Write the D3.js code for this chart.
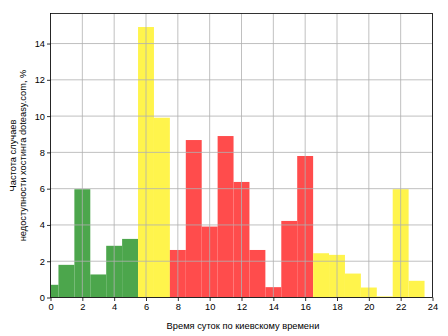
<!DOCTYPE html>
<html>
<head>
<meta charset="utf-8">
<script src="https://cdn.jsdelivr.net/npm/d3@7"></script>
<style>
  html, body { margin: 0; padding: 0; background: #fff; }
  svg { display: block; font-family: "Liberation Sans", Arial, sans-serif; }
</style>
</head>
<body>
<svg id="chart" width="448" height="336"></svg>
<script>
// Hour of day (Kyiv time), bar centred on each hour
const hours = d3.range(0, 24);
// Share of downtime cases per hour, %
const values = [0.70, 1.80, 5.97, 1.27, 2.85, 3.23, 14.91, 9.91, 2.62, 8.68, 3.91, 8.90,
                6.37, 2.62, 0.57, 4.22, 7.80, 2.44, 2.35, 1.32, 0.55, 0.06, 5.97, 0.92];
// Time-of-day band of each hour
const bands = ["night","night","night","night","night","night",
               "morning","morning",
               "day","day","day","day","day","day","day","day","day",
               "evening","evening","evening","evening","evening","evening","evening"];
const bandColor = { night: "#4ca64c", morning: "#fff44c", day: "#ff4c4c", evening: "#fff44c" };
const xTicks = d3.range(0, 25, 2);
const yTicks = d3.range(0, 15, 2);

const svg = d3.select("#chart");
const m = { left: 50.5, right: 432.5, top: 13.5, bottom: 297.5 };
const fs = 9.3;

const x = d3.scaleLinear().domain([0, 24]).range([m.left, m.right]);
const y = d3.scaleLinear().domain([0, d3.max(values) * 1.05]).range([m.bottom, m.top]);

svg.append("defs").append("clipPath").attr("id", "plot")
  .append("rect").attr("x", m.left).attr("y", m.top)
  .attr("width", m.right - m.left).attr("height", m.bottom - m.top);

// Bars
svg.append("g").attr("clip-path", "url(#plot)")
  .selectAll("rect").data(hours).join("rect")
  .attr("x", h => x(h - 0.5))
  .attr("width", h => x(h + 0.5) - x(h - 0.5))
  .attr("y", h => y(values[h]))
  .attr("height", h => y(0) - y(values[h]))
  .attr("fill", h => bandColor[bands[h]]);

// Grid drawn over the bars
const grid = svg.append("g").attr("stroke", "#b0b0b0").attr("stroke-width", 0.8);
grid.selectAll(".gx").data(xTicks).join("line")
  .attr("x1", d => x(d)).attr("x2", d => x(d))
  .attr("y1", m.top).attr("y2", m.bottom);
grid.selectAll(".gy").data(yTicks).join("line")
  .attr("x1", m.left).attr("x2", m.right)
  .attr("y1", d => y(d)).attr("y2", d => y(d));

// Axes
const xAxis = d3.axisBottom(x).tickValues(xTicks).tickSize(3.5).tickPadding(2).tickFormat(d3.format("d"));
const yAxis = d3.axisLeft(y).tickValues(yTicks).tickSize(3.5).tickPadding(2).tickFormat(d3.format("d"));

const gx = svg.append("g").attr("transform", `translate(0,${m.bottom})`).call(xAxis);
const gy = svg.append("g").attr("transform", `translate(${m.left},0)`).call(yAxis);
[gx, gy].forEach(g => {
  g.select(".domain").remove();
  g.selectAll("line").attr("stroke", "#000").attr("stroke-width", 0.8);
  g.selectAll("text").attr("font-size", fs).attr("fill", "#000")
    .attr("font-family", "Liberation Sans, Arial, sans-serif");
});

// Frame
svg.append("rect")
  .attr("x", m.left).attr("y", m.top)
  .attr("width", m.right - m.left).attr("height", m.bottom - m.top)
  .attr("fill", "none").attr("stroke", "#000").attr("stroke-width", 0.8);

// Axis titles
svg.append("text")
  .attr("x", 243).attr("y", 329)
  .attr("text-anchor", "middle").attr("font-size", fs)
  .text("Время суток по киевскому времени");

const yl = svg.append("text")
  .attr("transform", `translate(15.5,${(m.top + m.bottom) / 2}) rotate(-90)`)
  .attr("text-anchor", "middle").attr("font-size", fs);
yl.append("tspan").attr("x", 0).attr("dy", 0).text("Частота случаев");
yl.append("tspan").attr("x", 0).attr("dy", 10.5).text("недоступности хостинга doteasy.com, %");
</script>
</body>
</html>
